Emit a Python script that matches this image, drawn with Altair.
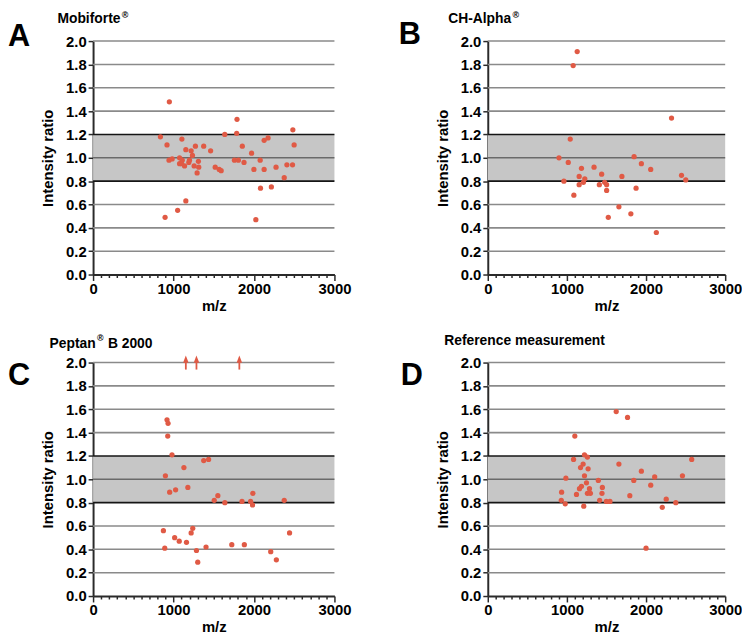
import altair as alt
import pandas as pd

# ---------------- data ----------------
a_mz = [948, 837, 919, 1104, 944, 983, 1075, 1108, 1075, 1100, 1137, 1153, 1190, 1198,
        1219, 1235, 1256, 1272, 1309, 1313, 1293, 1375, 1461, 1518, 1568, 1592, 1637,
        1757, 1806, 1789, 1785, 1855, 1876, 1970, 1999, 2077, 2081, 2126, 2175, 2126,
        2216, 2274, 2376, 2409, 2479, 2483, 2499, 895, 1051, 1153, 2023]
a_ratio = [1.48, 1.18, 1.11, 1.16, 0.98, 0.99, 1.00, 0.98, 0.95, 0.95, 0.93, 1.07, 0.96, 0.98,
           1.06, 1.02, 0.93, 1.10, 0.97, 0.92, 0.87, 1.10, 1.06, 0.92, 0.90, 0.89, 1.20,
           0.98, 0.98, 1.33, 1.21, 1.10, 0.96, 1.04, 0.90, 0.98, 0.74, 1.15, 1.17, 0.90,
           0.75, 0.92, 0.83, 0.94, 0.94, 1.24, 1.11, 0.49, 0.55, 0.63, 0.47]

b_mz = [1130, 1079, 2322, 1042, 900, 1017, 962, 1184, 1155, 1226, 1209, 1155, 1088, 1343,
        1439, 1410, 1477, 1502, 1502, 1523, 1695, 1657, 1849, 1941, 1874, 1808, 2059, 2130,
        2448, 2502]
b_ratio = [1.91, 1.79, 1.34, 1.16, 1.00, 0.96, 0.80, 0.91, 0.84, 0.82, 0.79, 0.77, 0.68, 0.92,
           0.86, 0.77, 0.79, 0.77, 0.72, 0.49, 0.84, 0.58, 1.01, 0.95, 0.74, 0.52, 0.90, 0.36,
           0.85, 0.81]

c_mz = [919, 932, 928, 981, 899, 952, 1026, 1129, 1178, 1375, 1436, 1506, 1551, 1638, 1851,
        1958, 1986, 1982, 2376, 874, 891, 1014, 1071, 1161, 1219, 1239, 1285, 1301, 1404,
        1724, 1880, 2208, 2278, 2442]
c_ratio = [1.51, 1.48, 1.37, 1.21, 1.03, 0.89, 0.91, 1.10, 0.93, 1.16, 1.17, 0.82, 0.86, 0.80,
           0.81, 0.81, 0.88, 0.78, 0.82, 0.56, 0.41, 0.50, 0.47, 0.46, 0.54, 0.58, 0.39, 0.29,
           0.42, 0.44, 0.44, 0.38, 0.31, 0.54]
c_offscale_mz = [1153, 1285, 1818]   # values above 2.0 (drawn as arrows)

d_mz = [1623, 1766, 1100, 1084, 1222, 1259, 1205, 1172, 1268, 1222, 987, 1397, 1247, 1184,
        1159, 1285, 1448, 933, 1121, 1259, 1297, 1443, 929, 979, 1213, 1414, 1498, 1544,
        1657, 1795, 1845, 1941, 2059, 2109, 2205, 2255, 2376, 2460, 2577, 2000]
d_ratio = [1.58, 1.53, 1.37, 1.17, 1.21, 1.19, 1.13, 1.10, 1.09, 1.03, 1.01, 0.99, 0.97, 0.94,
           0.92, 0.92, 0.93, 0.89, 0.87, 0.88, 0.88, 0.88, 0.82, 0.79, 0.77, 0.82, 0.81, 0.81,
           1.13, 0.86, 0.99, 1.07, 0.95, 1.02, 0.76, 0.83, 0.80, 1.03, 1.17, 0.41]

line_vals = [0.2, 0.4, 0.6, 0.8, 1.0, 1.2, 1.4, 1.6, 1.8, 2.0]
line_kind = ["grid", "grid", "grid", "edge", "mid", "edge", "grid", "grid", "grid", "grid"]
band_lo, band_hi = 0.8, 1.2
x_ticks = list(range(0, 3001, 100))
y_ticks = [0.0, 0.2, 0.4, 0.6, 0.8, 1.0, 1.2, 1.4, 1.6, 1.8, 2.0]

FONT = "Liberation Sans"
DOT = "#e05a45"
H = 236

xs = alt.Scale(domain=[0, 3000], nice=False)
ys = alt.Scale(domain=[0, 2], nice=False)

x_axis = alt.Axis(
    title="m/z", values=x_ticks, format="d",
    labelExpr="datum.value % 1000 == 0 ? datum.label : ''",
    labelOverlap=False, labelFlush=False,
    tickSize={"condition": {"test": "datum.value % 1000 == 0", "value": 6}, "value": 3},
    grid=False, labelPadding=1, titlePadding=2,
)
y_axis = alt.Axis(
    title="Intensity ratio", values=y_ticks, format=".1f", grid=False,
    tickSize=5, labelPadding=2, titlePadding=10,
)


def text_layer(txt, dx, dy, size):
    return alt.Chart(pd.DataFrame({"t": [txt]})).mark_text(
        font=FONT, fontWeight="bold", fontSize=size, align="left",
        baseline="top", color="black"
    ).encode(text="t:N", x=alt.value(dx), y=alt.value(dy))


def panel(mz, ratio, w, letter, ldx, ldy, title_parts, arrows=None):
    df = pd.DataFrame({"mz": mz, "ratio": ratio})
    band = alt.Chart(pd.DataFrame({"x0": [0], "x1": [3000], "lo": [band_lo], "hi": [band_hi]})).mark_rect(
        color="#c6c6c6"
    ).encode(
        x=alt.X("x0:Q", scale=xs, axis=x_axis), x2="x1:Q",
        y=alt.Y("lo:Q", scale=ys, axis=y_axis), y2="hi:Q",
    )
    lines = alt.Chart(pd.DataFrame({"lv": line_vals, "kind": line_kind})).mark_rule().encode(
        x=alt.X("x0:Q", scale=xs, axis=x_axis), x2="x1:Q",
        y=alt.Y("lv:Q", scale=ys, axis=y_axis),
        color=alt.Color("kind:N", scale=alt.Scale(domain=["grid", "mid", "edge"],
                                                  range=["#8a8a8a", "#6a6a6a", "#151515"]),
                        legend=None),
        strokeWidth=alt.StrokeWidth("kind:N", scale=alt.Scale(domain=["grid", "mid", "edge"],
                                                              range=[1.6, 1.6, 1.8]),
                                    legend=None),
    ).transform_calculate(x0="0", x1="3000")
    pts = alt.Chart(df).mark_circle(size=28, color=DOT, opacity=1).encode(
        x=alt.X("mz:Q", scale=xs, axis=x_axis),
        y=alt.Y("ratio:Q", scale=ys, axis=y_axis),
    )
    layers = [band, lines, pts]
    if arrows:
        adf = pd.DataFrame({"mz": arrows, "base": [1.94] * len(arrows), "top": [2.01] * len(arrows),
                            "head": [2.03] * len(arrows)})
        shaft = alt.Chart(adf).mark_rule(color=DOT, strokeWidth=1.8).encode(
            x=alt.X("mz:Q", scale=xs, axis=x_axis),
            y=alt.Y("base:Q", scale=ys, axis=y_axis), y2="top:Q",
        )
        head = alt.Chart(adf).mark_point(
            shape="M-0.75,1L0,-1L0.75,1Z", filled=True, size=55, color=DOT, opacity=1
        ).encode(
            x=alt.X("mz:Q", scale=xs, axis=x_axis),
            y=alt.Y("head:Q", scale=ys, axis=y_axis),
        )
        layers += [shaft, head]
    layers.append(text_layer(letter, ldx, ldy, 31))
    for txt, dx, dy, size in title_parts:
        layers.append(text_layer(txt, dx, dy, size))
    return alt.layer(*layers).properties(width=w, height=H)


pA = panel(a_mz, a_ratio, 244, "A", -86, -19,
           [("Mobiforte", -36, -29, 14), ("®", 29, -30, 9)])
pB = panel(b_mz, b_ratio, 240, "B", -90, -21,
           [("CH-Alpha", -40, -29, 14), ("®", 25, -30, 9)])
pC = panel(c_mz, c_ratio, 244, "C", -86, -1,
           [("Peptan", -44, -26, 14), ("®", 4, -29, 9), ("B 2000", 15, -26, 14)],
           arrows=c_offscale_mz)
pD = panel(d_mz, d_ratio, 240, "D", -88, -1,
           [("Reference measurement", -44, -29, 14)])

chart = alt.concat(
    pA, pB, pC, pD, columns=2, spacing={"row": 89, "column": 155}, bounds="flush"
).properties(padding=0, background="white").configure_view(stroke=None).configure_axis(
    labelFont=FONT, labelFontWeight="bold", labelFontSize=15, labelColor="black",
    titleFont=FONT, titleFontWeight="bold", titleFontSize=15, titleColor="black",
    domainColor="#2a2a2a", domainWidth=2, tickColor="#2a2a2a", tickWidth=1.5,
)

chart.save("out.html", embed_options={"renderer": "svg", "actions": False})
